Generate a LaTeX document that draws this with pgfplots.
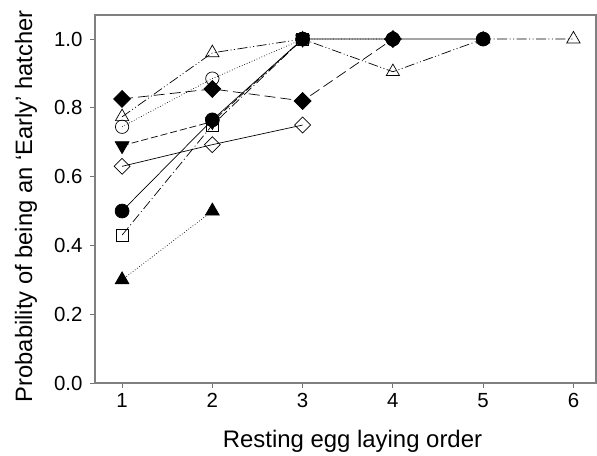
\documentclass[border=0pt]{standalone}
\usepackage{pgfplots}
\pgfplotsset{compat=1.18}
\usepackage{fontspec}
\setmainfont{Liberation Sans}
\begin{document}
\begin{tikzpicture}
\begin{axis}[
  name=ax, scale only axis, width=501bp, height=368bp,
  xmin=0.7, xmax=6.25, ymin=0, ymax=1.07,
  xtick={1,2,3,4,5,6}, ytick={0,0.2,0.4,0.6,0.8,1.0},
  yticklabel style={/pgf/number format/fixed, /pgf/number format/fixed zerofill, /pgf/number format/precision=1, xshift=-4bp},
  /pgf/number format/assume math mode=true,
  tick label style={font=\fontsize{20.5}{22}\selectfont},
  xticklabel style={yshift=-2bp},
  xlabel={Resting egg laying order}, ylabel={Probability of being an ‘Early’ hatcher},
  xlabel style={font=\fontsize{24}{26}\selectfont, at={(axis description cs:0.514,0)}, anchor=base, yshift=-64bp},
  ylabel style={font=\fontsize{23.8}{26}\selectfont, at={(axis description cs:-0.1257,0.48)}, anchor=base},
  tick align=outside, xtick pos=bottom, ytick pos=left,
  major tick length=5bp,
  axis line style={black!50, line width=1.1pt},
  every tick/.style={black!55, line width=0.8pt},
  every axis plot/.append style={black, line width=0.7pt},
  clip=false]
% filled up triangle, dotted
\addplot[dotted, mark=triangle*, mark size=8pt, mark options={solid}] coordinates {(1,0.30) (2,0.50)};
% open square, dash-dot
\addplot[dash pattern=on 10pt off 3pt on 1pt off 3pt, mark=square, mark size=6.2pt, mark options={solid, fill=white}] coordinates {(1,0.43) (2,0.75) (3,1.0)};
% open circle, dotted
\addplot[dotted, mark=o, mark size=6.7pt, mark options={solid, fill=white}] coordinates {(1,0.745) (2,0.885) (3,1.0) (4,1.0)};
% filled circle, solid
\addplot[mark=*, mark size=7pt] coordinates {(1,0.50) (2,0.765) (3,1.0) (4,1.0) (5,1.0)};
% open diamond, solid
\addplot[mark=diamond, mark size=8pt, mark options={solid, fill=white, xscale=1.33}] coordinates {(1,0.63) (2,0.693) (3,0.75)};
% filled down triangle, dashed
\addplot[dash pattern=on 7pt off 3pt, mark=triangle*, mark size=8pt, mark options={solid, rotate=180}] coordinates {(1,0.69) (2,0.76) (3,1.0)};
% filled diamond, long dash
\addplot[dash pattern=on 11pt off 5pt, mark=diamond*, mark size=8.5pt, mark options={solid, xscale=1.33}] coordinates {(1,0.826) (2,0.855) (3,0.82) (4,1.0)};
% open triangle, dash-dot-dot
\addplot[dash pattern=on 10pt off 2.5pt on 1pt off 2.5pt on 1pt off 2.5pt, mark=triangle, mark size=7.7pt, mark options={solid, fill=white}] coordinates {(1,0.774) (2,0.96) (3,1.0) (4,0.905) (5,1.0) (6,1.0)};
\end{axis}
\path (ax.south west) ++(-95bp,-70bp) (ax.north east) ++(1bp,15bp);
\end{tikzpicture}
\end{document}
